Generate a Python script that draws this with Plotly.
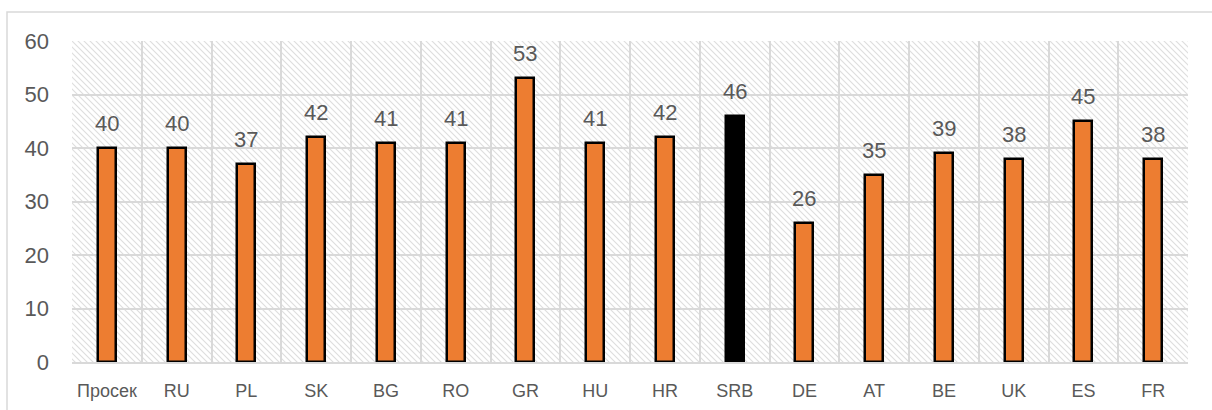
import base64
import plotly.graph_objects as go

categories = ["Просек", "RU", "PL", "SK", "BG", "RO", "GR", "HU", "HR", "SRB",
              "DE", "AT", "BE", "UK", "ES", "FR"]
values = [40, 40, 37, 42, 41, 41, 53, 41, 42, 46, 26, 35, 39, 38, 45, 38]
highlight = "SRB"
y_ticks = [0, 10, 20, 30, 40, 50, 60]

ORANGE = "#ED7D31"
GRID = "#d9d9d9"
TEXT = "#595959"
FONT = "Liberation Sans, Arial, sans-serif"

W, H = 1212, 410
ML, MR, MT, MB = 72, 24, 41, 48
PW, PH = W - ML - MR, H - MT - MB

# hatched plot background as an SVG pattern
svg = f'''<svg xmlns="http://www.w3.org/2000/svg" width="{PW}" height="{PH}" viewBox="0 0 {PW} {PH}" preserveAspectRatio="none">
<defs><pattern id="h" patternUnits="userSpaceOnUse" width="6" height="6">
<rect width="6" height="6" fill="white"/>
<path d="M-1,-1 L7,7 M-1,5 L1,7 M5,-1 L7,1" stroke="#dedede" stroke-width="1.1"/>
</pattern></defs>
<rect width="{PW}" height="{PH}" fill="url(#h)"/></svg>'''
src = "data:image/svg+xml;base64," + base64.b64encode(svg.encode()).decode()

colors = ["black" if c == highlight else ORANGE for c in categories]

fig = go.Figure()
fig.add_trace(go.Bar(
    x=categories, y=values, width=0.26,
    marker=dict(color=colors, line=dict(color="black", width=2.5)),
    hoverinfo="x+y",
))

for c, v in zip(categories, values):
    fig.add_annotation(x=c, y=v, text=str(v), showarrow=False,
                       yanchor="bottom", yshift=10,
                       font=dict(family=FONT, size=22, color=TEXT))

fig.add_layout_image(dict(source=src, xref="paper", yref="paper", x=0, y=1,
                          sizex=1, sizey=1, sizing="stretch",
                          xanchor="left", yanchor="top", layer="below"))

# outer chart frame
fig.add_shape(type="rect", xref="paper", yref="paper",
              x0=(7 - ML) / PW, x1=1.2, y0=-0.5, y1=(PH + MT - 12) / PH,
              line=dict(color=GRID, width=1.5), fillcolor="rgba(0,0,0,0)",
              layer="below")

fig.update_layout(
    width=W, height=H,
    margin=dict(l=ML, r=MR, t=MT, b=MB, pad=0),
    paper_bgcolor="white", plot_bgcolor="rgba(0,0,0,0)",
    showlegend=False, bargap=0,
    font=dict(family=FONT, color=TEXT),
)
fig.update_xaxes(
    type="category", tickson="boundaries", showgrid=True, gridcolor=GRID,
    gridwidth=1.5, showline=True, linecolor=GRID, linewidth=1.5,
    ticks="", ticklabelstandoff=12, tickangle=0, automargin=False,
    tickfont=dict(family=FONT, size=18, color=TEXT),
    range=[-0.5, len(categories) - 0.5],
)
fig.update_yaxes(
    range=[0, 60], tickvals=y_ticks, showgrid=True, gridcolor=GRID, gridwidth=1.5,
    zeroline=False, showline=False, ticks="", ticklabelstandoff=22, automargin=False,
    tickfont=dict(family=FONT, size=22, color=TEXT),
)

fig.write_html("out.html", config={"displayModeBar": False})
